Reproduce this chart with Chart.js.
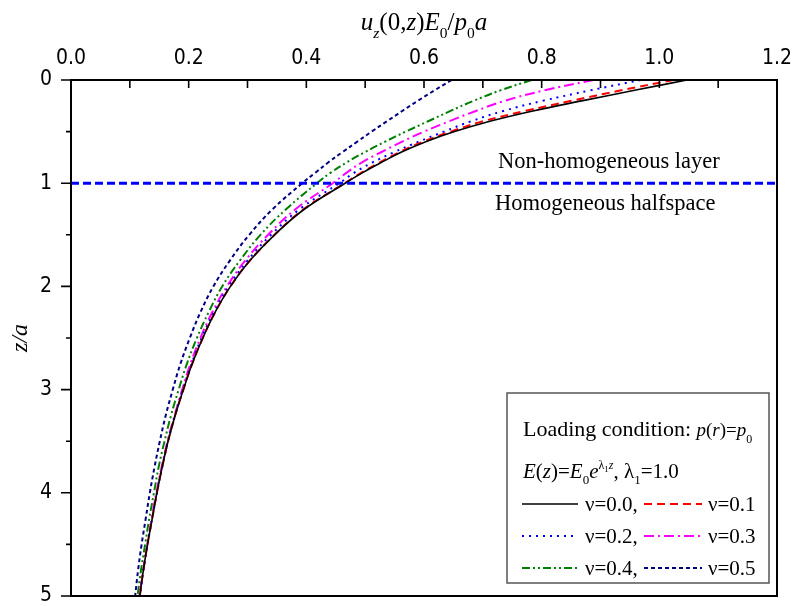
<!DOCTYPE html>
<html>
<head>
<meta charset="utf-8">
<script src="https://cdn.jsdelivr.net/npm/chart.js@4.4.1/dist/chart.umd.min.js"></script>
<style>
  html, body { margin: 0; padding: 0; background: #fff; }
  canvas { display: block; }
</style>
</head>
<body>
<canvas id="myChart" width="795" height="606"></canvas>
<script>
// depth z/a (rows) and u_z(0,z)E0/p0a for each Poisson ratio
const depth = [0, 0.1, 0.2, 0.3, 0.4, 0.5, 0.6, 0.7, 0.8, 0.9, 1.0,
  1.25, 1.5, 1.75, 2.0, 2.25, 2.5, 2.75, 3.0, 3.25, 3.5, 3.75, 4.0, 4.25, 4.5, 4.75, 5.0];
const nu00 = [1.047, 0.958, 0.870, 0.785, 0.712, 0.652, 0.602, 0.561, 0.527, 0.495, 0.466,
  0.397, 0.346, 0.304, 0.271, 0.245, 0.224, 0.206, 0.191, 0.177, 0.165, 0.155, 0.146, 0.138, 0.130, 0.123, 0.117];
const nu01 = [1.024, 0.935, 0.852, 0.772, 0.700, 0.645, 0.598, 0.558, 0.524, 0.493, 0.465,
  0.396, 0.346, 0.304, 0.271, 0.245, 0.224, 0.206, 0.191, 0.177, 0.165, 0.155, 0.146, 0.138, 0.130, 0.123, 0.117];
const nu02 = [0.968, 0.883, 0.803, 0.735, 0.680, 0.634, 0.590, 0.549, 0.512, 0.481, 0.456,
  0.389, 0.340, 0.300, 0.268, 0.243, 0.222, 0.205, 0.190, 0.177, 0.165, 0.155, 0.146, 0.138, 0.130, 0.123, 0.117];
const nu03 = [0.888, 0.805, 0.738, 0.688, 0.643, 0.600, 0.562, 0.527, 0.494, 0.468, 0.445,
  0.382, 0.335, 0.296, 0.265, 0.240, 0.220, 0.203, 0.189, 0.176, 0.164, 0.154, 0.145, 0.137, 0.130, 0.123, 0.116];
const nu04 = [0.783, 0.730, 0.685, 0.645, 0.607, 0.569, 0.533, 0.499, 0.468, 0.441, 0.418,
  0.366, 0.322, 0.287, 0.257, 0.234, 0.214, 0.197, 0.183, 0.170, 0.159, 0.149, 0.141, 0.133, 0.126, 0.119, 0.113];
const nu05 = [0.647, 0.618, 0.590, 0.563, 0.537, 0.511, 0.486, 0.461, 0.437, 0.415, 0.393,
  0.343, 0.303, 0.270, 0.242, 0.220, 0.202, 0.186, 0.173, 0.161, 0.151, 0.142, 0.134, 0.127, 0.120, 0.114, 0.109];
const nuLabels = ["ν=0.0,", "ν=0.1", "ν=0.2,", "ν=0.3", "ν=0.4,", "ν=0.5"];
const layerDepth = 1.0;
const xTickLabels = ["0.0", "0.2", "0.4", "0.6", "0.8", "1.0", "1.2"];

const serif = '"Liberation Serif", "Times New Roman", serif';
const sans = '"Liberation Sans Narrow", "DejaVu Sans Condensed", "Arial Narrow", "Liberation Sans", sans-serif';

function pts(vals) {
  return vals.map((v, i) => ({ x: v, y: depth[i] }));
}

const styles = [
  { color: "#000000", dash: [], width: 1.6 },
  { color: "#ff0000", dash: [8, 5], width: 2 },
  { color: "#0000ff", dash: [2, 5], width: 2 },
  { color: "#ff00ff", dash: [10, 4, 2, 4], width: 2 },
  { color: "#008000", dash: [8, 3, 2, 3, 2, 3], width: 2 },
  { color: "#000080", dash: [4, 3], width: 2 },
];
const series = [nu00, nu01, nu02, nu03, nu04, nu05];

const datasets = series.map((vals, i) => ({
  label: nuLabels[i],
  data: pts(vals),
  borderColor: styles[i].color,
  borderDash: styles[i].dash,
  borderWidth: styles[i].width,
  showLine: true,
  pointRadius: 0,
  tension: 0.4,
  fill: false,
}));

// layer boundary
datasets.unshift({
  label: "boundary",
  data: [{ x: 0, y: layerDepth }, { x: 1.2, y: layerDepth }],
  borderColor: "#0000ff",
  borderDash: [8, 4],
  borderWidth: 3,
  showLine: true,
  pointRadius: 0,
  tension: 0,
});

// draw a run of text pieces with sub/superscripts
function rich(ctx, x, y, parts, size, align) {
  const fontOf = (p) => {
    let s = size;
    if (p.sub || p.sup) s = size * 0.62;
    if (p.size) s = p.size;
    return (p.i ? "italic " : "") + s + "px " + serif;
  };
  let total = 0;
  parts.forEach((p) => {
    ctx.font = fontOf(p);
    total += ctx.measureText(p.t).width;
  });
  let cx = align === "center" ? x - total / 2 : x;
  ctx.textBaseline = "alphabetic";
  ctx.textAlign = "left";
  parts.forEach((p) => {
    ctx.font = fontOf(p);
    let dy = 0;
    if (p.sub) dy = size * 0.3;
    if (p.sup) dy = -size * 0.45;
    if (p.dy) dy = p.dy;
    ctx.fillText(p.t, cx, y + dy);
    cx += ctx.measureText(p.t).width;
  });
}

const decorations = {
  id: "decorations",
  afterDatasetsDraw(chart) {
    const ctx = chart.ctx;
    const a = chart.chartArea;
    const xs = chart.scales.x;
    const ys = chart.scales.y;
    ctx.save();
    ctx.strokeStyle = "#000";
    ctx.lineWidth = 2;
    ctx.setLineDash([]);
    ctx.strokeRect(a.left, a.top, a.right - a.left, a.bottom - a.top);
    ctx.lineWidth = 1.6;
    ctx.beginPath();
    for (let k = 0; k <= 12; k++) {
      const px = xs.getPixelForValue(k / 10);
      ctx.moveTo(px, a.top);
      ctx.lineTo(px, a.top + 8);
    }
    for (let k = 0; k <= 10; k++) {
      const py = ys.getPixelForValue(k / 2);
      ctx.moveTo(a.left, py);
      ctx.lineTo(a.left - (k % 2 === 0 ? 10 : 5), py);
    }
    ctx.stroke();
    ctx.restore();
  },
  afterDraw(chart) {
    const ctx = chart.ctx;
    const a = chart.chartArea;
    ctx.save();
    ctx.fillStyle = "#000";

    // top axis title
    rich(ctx, (a.left + a.right) / 2, 30, [
      { t: "u", i: true }, { t: "z", i: true, sub: true }, { t: "(0," }, { t: "z", i: true },
      { t: ")" }, { t: "E", i: true }, { t: "0", sub: true }, { t: "/" }, { t: "p", i: true },
      { t: "0", sub: true }, { t: "a", i: true },
    ], 25, "center");

    // left axis title
    ctx.save();
    ctx.translate(27, (a.top + a.bottom) / 2);
    ctx.rotate(-Math.PI / 2);
    rich(ctx, 0, 0, [{ t: "z/a", i: true }], 24, "center");
    ctx.restore();

    // region labels
    ctx.font = "22.5px " + serif;
    ctx.textAlign = "left";
    ctx.textBaseline = "alphabetic";
    ctx.fillText("Non-homogeneous layer", 498, 168);
    ctx.fillText("Homogeneous halfspace", 495, 210);

    // legend box
    ctx.lineWidth = 1.5;
    ctx.strokeStyle = "#555";
    ctx.strokeRect(507, 393, 262, 190);
    rich(ctx, 523, 436, [
      { t: "Loading condition: " }, { t: "p", i: true, size: 19 }, { t: "(", size: 19 },
      { t: "r", i: true, size: 19 }, { t: ")=", size: 19 }, { t: "p", i: true, size: 19 },
      { t: "0", sub: true, size: 12 },
    ], 22, "left");
    rich(ctx, 523, 478, [
      { t: "E", i: true }, { t: "(" }, { t: "z", i: true }, { t: ")=" }, { t: "E", i: true },
      { t: "0", sub: true }, { t: "e", i: true }, { t: "λ", sup: true, size: 12 },
      { t: "1", size: 9, dy: -6 }, { t: "z", i: true, sup: true, size: 12 },
      { t: ", λ" }, { t: "1", sub: true }, { t: "=1.0" },
    ], 21, "left");

    const rows = [504, 536, 568];
    const ds = chart.data.datasets.slice(1);
    ds.forEach((d, i) => {
      const row = rows[Math.floor(i / 2)];
      const x0 = i % 2 === 0 ? 522 : 644;
      const x1 = i % 2 === 0 ? 578 : 702;
      const tx = i % 2 === 0 ? 585 : 708;
      ctx.beginPath();
      ctx.strokeStyle = d.borderColor;
      ctx.lineWidth = d.borderWidth;
      ctx.setLineDash(d.borderDash);
      ctx.moveTo(x0, row);
      ctx.lineTo(x1, row);
      ctx.stroke();
      ctx.setLineDash([]);
      ctx.font = "21px " + serif;
      ctx.textBaseline = "middle";
      ctx.textAlign = "left";
      ctx.fillText(d.label, tx, row + 1);
    });
    ctx.restore();
  },
};

const config = {
  type: "scatter",
  data: { datasets: datasets },
  options: {
    responsive: false,
    animation: false,
    layout: { padding: { left: 0, right: 18, top: 0, bottom: 10 } },
    plugins: {
      legend: { display: false },
      tooltip: { enabled: false },
    },
    scales: {
      x: {
        type: "linear",
        position: "top",
        min: 0,
        max: 1.2,
        grid: { display: false },
        border: { display: false },
        ticks: {
          stepSize: 0.2,
          color: "#000",
          padding: 1,
          maxRotation: 0,
          font: { family: sans, size: 21 },
          callback: (v) => xTickLabels[Math.round(v * 5)],
        },
        afterFit(s) {
          s.height = 80;
          s.paddingLeft = 0;
          s.paddingRight = 0;
        },
      },
      y: {
        type: "linear",
        reverse: true,
        min: 0,
        max: 5,
        grid: { display: false },
        border: { display: false },
        ticks: {
          stepSize: 1,
          color: "#000",
          padding: 11,
          font: { family: sans, size: 21 },
        },
        afterFit(s) {
          s.width = 71;
          s.paddingTop = 0;
          s.paddingBottom = 0;
        },
      },
    },
  },
  plugins: [decorations],
};

const myChart = new Chart(document.getElementById("myChart"), config);
</script>
</body>
</html>
